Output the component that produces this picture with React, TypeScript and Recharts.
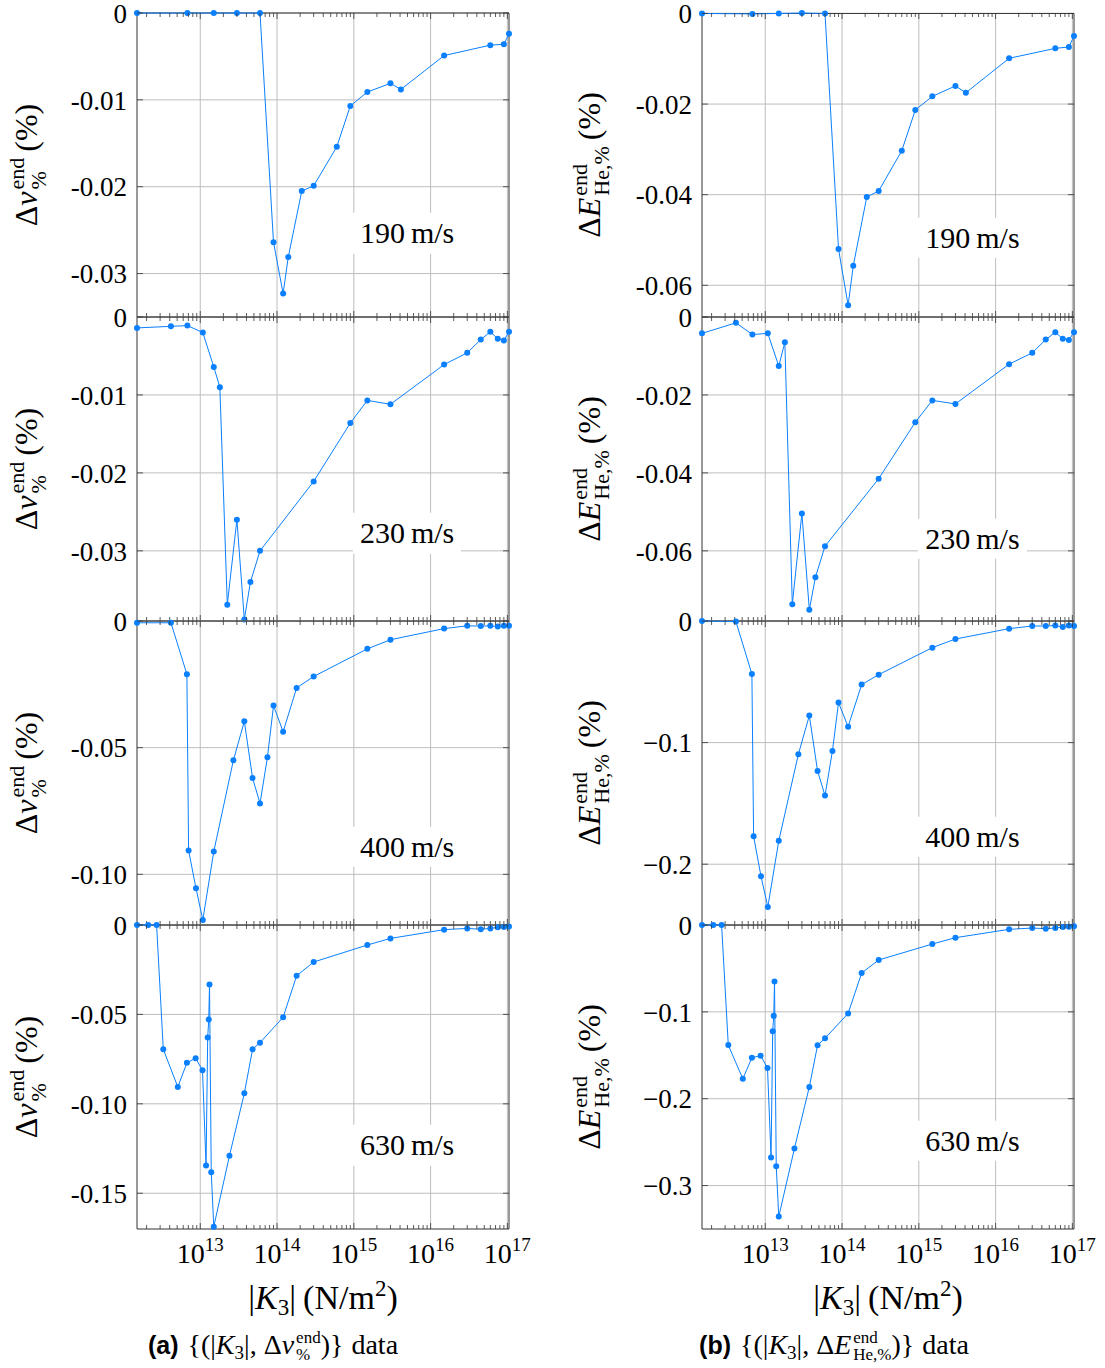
import React from 'react';
import { LineChart, Line, XAxis, YAxis, CartesianGrid, ReferenceArea } from 'recharts';

// ---------- data: |K3| (N/m^2) and end-state deviations (%) ----------
const k3At190 = [1.5e12, 6.8e12, 1.5e13, 3e13, 6e13, 9e13, 1.2e14, 1.4e14, 2.1e14, 3e14, 6e14, 9e14, 1.5e15, 3e15, 4.1e15, 1.5e16, 6e16, 9e16, 1.05e17];
const dv190 = [0, 0, 0, 0, 0, -0.0264, -0.0323, -0.0281, -0.0205, -0.0199, -0.0154, -0.0107, -0.0091, -0.0081, -0.0088, -0.0049, -0.0037, -0.0036, -0.0024];
const dE190 = [0, -0.0001, 0, 0.0001, 0, -0.052, -0.0644, -0.0557, -0.0405, -0.0392, -0.0303, -0.0213, -0.0183, -0.016, -0.0175, -0.0099, -0.0077, -0.0074, -0.005];

const k3At230 = [1.5e12, 4.15e12, 6.8e12, 1.08e13, 1.5e13, 1.8e13, 2.25e13, 3e13, 3.75e13, 4.5e13, 6e13, 3e14, 9e14, 1.5e15, 3e15, 1.5e16, 3e16, 4.5e16, 6e16, 7.5e16, 9e16, 1.05e17];
const dv230 = [-0.0014, -0.0012, -0.0011, -0.002, -0.0064, -0.009, -0.0369, -0.026, -0.0388, -0.034, -0.03, -0.0211, -0.0136, -0.0107, -0.0112, -0.0061, -0.0046, -0.0029, -0.0019, -0.0028, -0.003, -0.0019];
const dE230 = [-0.0042, -0.0015, -0.0045, -0.0042, -0.0126, -0.0065, -0.0737, -0.0504, -0.0751, -0.0668, -0.0588, -0.0415, -0.027, -0.0214, -0.0223, -0.0121, -0.0092, -0.0058, -0.0039, -0.0056, -0.0059, -0.0039];

const k3At400 = [1.5e12, 4.15e12, 6.7e12, 7.05e12, 8.8e12, 1.08e13, 1.5e13, 2.7e13, 3.75e13, 4.8e13, 6e13, 7.5e13, 9e13, 1.2e14, 1.8e14, 3e14, 1.5e15, 3e15, 1.5e16, 3e16, 4.5e16, 6e16, 7.5e16, 9e16, 1.05e17];
const dv400 = [-0.0007, -0.0007, -0.021, -0.0906, -0.1055, -0.118, -0.091, -0.055, -0.0396, -0.062, -0.072, -0.0538, -0.0334, -0.0437, -0.0264, -0.0219, -0.011, -0.0074, -0.003, -0.0019, -0.002, -0.0019, -0.0022, -0.0019, -0.0019];
const dE400 = [0, -0.0005, -0.0436, -0.177, -0.2099, -0.2351, -0.1808, -0.1096, -0.0778, -0.1233, -0.1436, -0.1069, -0.0671, -0.0869, -0.0523, -0.0441, -0.0219, -0.0148, -0.0063, -0.0041, -0.0041, -0.0038, -0.0049, -0.0038, -0.0041];

const k3At630 = [1.5e12, 2.1e12, 2.7e12, 3.3e12, 5.1e12, 6.7e12, 8.7e12, 1.07e13, 1.19e13, 1.25e13, 1.29e13, 1.32e13, 1.39e13, 1.5e13, 2.4e13, 3.75e13, 4.8e13, 6e13, 1.2e14, 1.8e14, 3e14, 1.5e15, 3e15, 1.5e16, 3e16, 4.5e16, 6e16, 7.5e16, 9e16, 1.05e17];
const dv630 = [0, 0, 0, -0.0695, -0.0906, -0.0771, -0.0745, -0.0812, -0.1345, -0.0629, -0.0529, -0.0333, -0.1382, -0.1687, -0.1291, -0.0941, -0.0695, -0.0658, -0.0516, -0.0284, -0.0207, -0.0112, -0.0075, -0.0026, -0.0019, -0.0024, -0.0019, -0.0013, -0.0011, -0.0009];
const dE630 = [0, 0, 0, -0.1383, -0.177, -0.1528, -0.1505, -0.1647, -0.2676, -0.1223, -0.1046, -0.065, -0.2777, -0.3357, -0.2572, -0.1864, -0.1384, -0.1305, -0.1018, -0.0553, -0.0403, -0.0219, -0.0146, -0.005, -0.0035, -0.0042, -0.0035, -0.0023, -0.0019, -0.0015];

// ---------- axes ----------
const xDomain: [number, number] = [1.5e12, 1.05e17];
const xMajorTicks = [1e13, 1e14, 1e15, 1e16, 1e17];
const xMantissas = [1, 2, 3, 4, 5, 6, 7, 8, 9];
const xDecades = [12, 13, 14, 15, 16, 17];
const xAllTicks = xDecades
  .flatMap((d) => xMantissas.map((m) => m * Math.pow(10, d)))
  .filter((v) => v >= xDomain[0] && v <= xDomain[1]);

const yTicksV1 = [0, -0.01, -0.02, -0.03];
const yLabelsV1 = ['0', '-0.01', '-0.02', '-0.03'];
const yTicksE1 = [0, -0.02, -0.04, -0.06];
const yLabelsE1 = ['0', '-0.02', '-0.04', '-0.06'];
const yTicksV3 = [0, -0.05, -0.1];
const yLabelsV3 = ['0', '-0.05', '-0.10'];
const yTicksE3 = [0, -0.1, -0.2];
const yLabelsE3 = ['0', '\u22120.1', '\u22120.2'];
const yTicksV4 = [0, -0.05, -0.1, -0.15];
const yLabelsV4 = ['0', '-0.05', '-0.10', '-0.15'];
const yTicksE4 = [0, -0.1, -0.2, -0.3];
const yLabelsE4 = ['0', '\u22120.1', '\u22120.2', '\u22120.3'];

const speeds = ['190', '230', '400', '630'];

// ---------- styling ----------
const SERIF = '"Liberation Serif", "Times New Roman", serif';
const SANS = '"Liberation Sans", "DejaVu Sans", sans-serif';
const FRAME = '#333333';
const GRID = '#bdbdbd';
const BLUE = '#0a80ff';

const PLOT_W = 372;
const PLOT_H = 304;
const LEFT_SPACE = 137;
const RIGHT_SPACE = 42;
const TOP_SPACE = 22;
const Y_AXIS_W = 80;
const COL_X = [137, 702];
const ROW_Y = [13, 317, 621, 925];

function XTick(props: any) {
  const { x, payload, showLabel } = props;
  const v = payload.value as number;
  const exp = Math.round(Math.log10(v));
  const isMajor = Math.abs(v - Math.pow(10, exp)) < v * 1e-6;
  const len = isMajor ? 6 : 4;
  const top = TOP_SPACE;
  const bottom = TOP_SPACE + PLOT_H;
  return (
    <g>
      <line x1={x} x2={x} y1={bottom} y2={bottom - len} stroke={FRAME} strokeWidth={0.8} />
      <line x1={x} x2={x} y1={top} y2={top + len} stroke={FRAME} strokeWidth={0.8} />
      {showLabel && isMajor ? (
        <text x={x} y={bottom + 34} textAnchor="middle" fontFamily={SERIF} fontSize={28} fill="#000">
          10
          <tspan dy={-12} fontSize={19}>
            {exp}
          </tspan>
        </text>
      ) : null}
    </g>
  );
}

function YTick(props: any) {
  const { y, payload, ticks, labels } = props;
  const v = payload.value as number;
  let idx = 0;
  ticks.forEach((t: number, i: number) => {
    if (Math.abs(t - v) < Math.abs(ticks[idx] - v)) idx = i;
  });
  return (
    <g>
      <text x={LEFT_SPACE - 10} y={y} dy="0.36em" textAnchor="end" fontFamily={SERIF} fontSize={27} fill="#000">
        {labels[idx]}
      </text>
      <line x1={LEFT_SPACE} x2={LEFT_SPACE + 6} y1={y} y2={y} stroke={FRAME} strokeWidth={0.8} />
      <line x1={LEFT_SPACE + PLOT_W - 6} x2={LEFT_SPACE + PLOT_W} y1={y} y2={y} stroke={FRAME} strokeWidth={0.8} />
    </g>
  );
}

type PanelProps = {
  k: number[];
  vals: number[];
  yDomain: [number, number];
  yTicks: number[];
  yLabels: string[];
  col: number;
  row: number;
  showX: boolean;
};

function Panel({ k, vals, yDomain, yTicks, yLabels, col, row, showX }: PanelProps) {
  const data = k.map((kv, i) => ({ k: kv, y: vals[i] }));
  const xAxisH = showX ? 52 : 14;
  const width = LEFT_SPACE + PLOT_W + RIGHT_SPACE;
  const height = TOP_SPACE + PLOT_H + xAxisH;
  return (
    <div style={{ position: 'absolute', left: COL_X[col] - LEFT_SPACE, top: ROW_Y[row] - TOP_SPACE }}>
      <LineChart
        width={width}
        height={height}
        data={data}
        margin={{ top: TOP_SPACE, right: RIGHT_SPACE, bottom: 0, left: LEFT_SPACE - Y_AXIS_W }}
      >
        <CartesianGrid stroke={GRID} strokeWidth={1} verticalValues={xMajorTicks} horizontalValues={yTicks} />
        <XAxis
          dataKey="k"
          type="number"
          scale="log"
          domain={xDomain}
          ticks={xAllTicks}
          interval={0}
          height={xAxisH}
          tickSize={0}
          tickMargin={0}
          axisLine={false}
          tickLine={false}
          tick={<XTick showLabel={showX} />}
        />
        <YAxis
          type="number"
          domain={yDomain}
          ticks={yTicks}
          interval={0}
          width={Y_AXIS_W}
          tickSize={0}
          tickMargin={0}
          axisLine={false}
          tickLine={false}
          tick={<YTick ticks={yTicks} labels={yLabels} />}
        />
        <ReferenceArea
          x1={xDomain[0]}
          x2={xDomain[1]}
          y1={yDomain[0]}
          y2={yDomain[1]}
          fill="none"
          fillOpacity={0}
          stroke={FRAME}
          strokeWidth={1}
          ifOverflow="visible"
        />
        <Line
          type="linear"
          dataKey="y"
          stroke={BLUE}
          strokeWidth={1}
          dot={{ r: 3, fill: BLUE, stroke: 'none' }}
          activeDot={false}
          isAnimationActive={false}
        />
      </LineChart>
    </div>
  );
}

const SupSub = ({ sup, sub, size, raise }: { sup: React.ReactNode; sub: React.ReactNode; size: number; raise: number }) => (
  <span
    style={{
      display: 'inline-flex',
      flexDirection: 'column',
      fontSize: size,
      lineHeight: 1,
      verticalAlign: raise,
      marginLeft: 2,
    }}
  >
    <span>{sup}</span>
    <span>{sub}</span>
  </span>
);

function YTitle({ kind, cx, cy }: { kind: 'v' | 'E'; cx: number; cy: number }) {
  return (
    <div
      style={{
        position: 'absolute',
        left: cx,
        top: cy,
        transform: 'translate(-50%, -50%) rotate(-90deg)',
        whiteSpace: 'nowrap',
        fontFamily: SERIF,
        fontSize: 32,
        lineHeight: 1,
        color: '#000',
      }}
    >
      {'\u0394'}
      {kind === 'v' ? <i>v</i> : <i>E</i>}
      <SupSub sup="end" sub={kind === 'v' ? '%' : 'He,%'} size={22} raise={13} />
      <span style={{ marginLeft: 6 }}>(%)</span>
    </div>
  );
}

function SpeedLabel({ text, cx, cy }: { text: string; cx: number; cy: number }) {
  return (
    <div
      style={{
        position: 'absolute',
        left: cx,
        top: cy,
        transform: 'translate(-50%, -50%)',
        background: '#fff',
        padding: '3px 7px',
        whiteSpace: 'nowrap',
        fontFamily: SERIF,
        fontSize: 30,
        lineHeight: 1.15,
        color: '#000',
      }}
    >
      {text}
      {'\u2009m/s'}
    </div>
  );
}

function XTitle({ cx, cy }: { cx: number; cy: number }) {
  return (
    <div
      style={{
        position: 'absolute',
        left: cx,
        top: cy,
        transform: 'translate(-50%, -50%)',
        whiteSpace: 'nowrap',
        fontFamily: SERIF,
        fontSize: 34,
        lineHeight: 1,
        color: '#000',
      }}
    >
      |<i>K</i>
      <span style={{ fontSize: 23, verticalAlign: -6 }}>3</span>|<span style={{ marginLeft: 7 }}>(N/m</span>
      <span style={{ fontSize: 23, verticalAlign: 13 }}>2</span>)
    </div>
  );
}

function Caption({ kind, cx, cy }: { kind: 'a' | 'b'; cx: number; cy: number }) {
  return (
    <div
      style={{
        position: 'absolute',
        left: cx,
        top: cy,
        transform: 'translate(-50%, -50%)',
        whiteSpace: 'nowrap',
        fontFamily: SERIF,
        fontSize: 28,
        lineHeight: 1,
        color: '#000',
      }}
    >
      <b style={{ fontFamily: SANS, fontSize: 25 }}>({kind})</b>
      <span style={{ marginLeft: 9 }}>{'{(|'}</span>
      <i>K</i>
      <span style={{ fontSize: 19, verticalAlign: -5 }}>3</span>
      {'|, \u0394'}
      {kind === 'a' ? <i>v</i> : <i>E</i>}
      <SupSub sup="end" sub={kind === 'a' ? '%' : 'He,%'} size={17} raise={11} />
      {')}'}
      <span style={{ marginLeft: 8 }}>data</span>
    </div>
  );
}

const leftPanels = [
  { k: k3At190, vals: dv190, yDomain: [-0.035, 0] as [number, number], yTicks: yTicksV1, yLabels: yLabelsV1 },
  { k: k3At230, vals: dv230, yDomain: [-0.039, 0] as [number, number], yTicks: yTicksV1, yLabels: yLabelsV1 },
  { k: k3At400, vals: dv400, yDomain: [-0.12, 0] as [number, number], yTicks: yTicksV3, yLabels: yLabelsV3 },
  { k: k3At630, vals: dv630, yDomain: [-0.17, 0] as [number, number], yTicks: yTicksV4, yLabels: yLabelsV4 },
];
const rightPanels = [
  { k: k3At190, vals: dE190, yDomain: [-0.067, 0] as [number, number], yTicks: yTicksE1, yLabels: yLabelsE1 },
  { k: k3At230, vals: dE230, yDomain: [-0.078, 0] as [number, number], yTicks: yTicksE1, yLabels: yLabelsE1 },
  { k: k3At400, vals: dE400, yDomain: [-0.25, 0] as [number, number], yTicks: yTicksE3, yLabels: yLabelsE3 },
  { k: k3At630, vals: dE630, yDomain: [-0.35, 0] as [number, number], yTicks: yTicksE4, yLabels: yLabelsE4 },
];

const speedPosLeft = [0.724, 0.711, 0.743, 0.724];
const speedPosRight = [0.74, 0.73, 0.71, 0.71];

export default function App() {
  return (
    <div style={{ position: 'absolute', left: 0, top: 0, width: 1105, height: 1368, background: '#fff', overflow: 'hidden' }}>
      {leftPanels.map((p, r) => (
        <Panel key={'l' + r} {...p} col={0} row={r} showX={r === 3} />
      ))}
      {rightPanels.map((p, r) => (
        <Panel key={'r' + r} {...p} col={1} row={r} showX={r === 3} />
      ))}
      {ROW_Y.map((y, r) => (
        <React.Fragment key={'t' + r}>
          <YTitle kind="v" cx={28} cy={y + PLOT_H / 2} />
          <YTitle kind="E" cx={591} cy={y + PLOT_H / 2} />
          <SpeedLabel text={speeds[r]} cx={COL_X[0] + 0.726 * PLOT_W} cy={y + speedPosLeft[r] * PLOT_H} />
          <SpeedLabel text={speeds[r]} cx={COL_X[1] + 0.727 * PLOT_W} cy={y + speedPosRight[r] * PLOT_H} />
        </React.Fragment>
      ))}
      <XTitle cx={COL_X[0] + PLOT_W / 2} cy={1298} />
      <XTitle cx={COL_X[1] + PLOT_W / 2} cy={1298} />
      <Caption kind="a" cx={273} cy={1346} />
      <Caption kind="b" cx={834} cy={1346} />
    </div>
  );
}
